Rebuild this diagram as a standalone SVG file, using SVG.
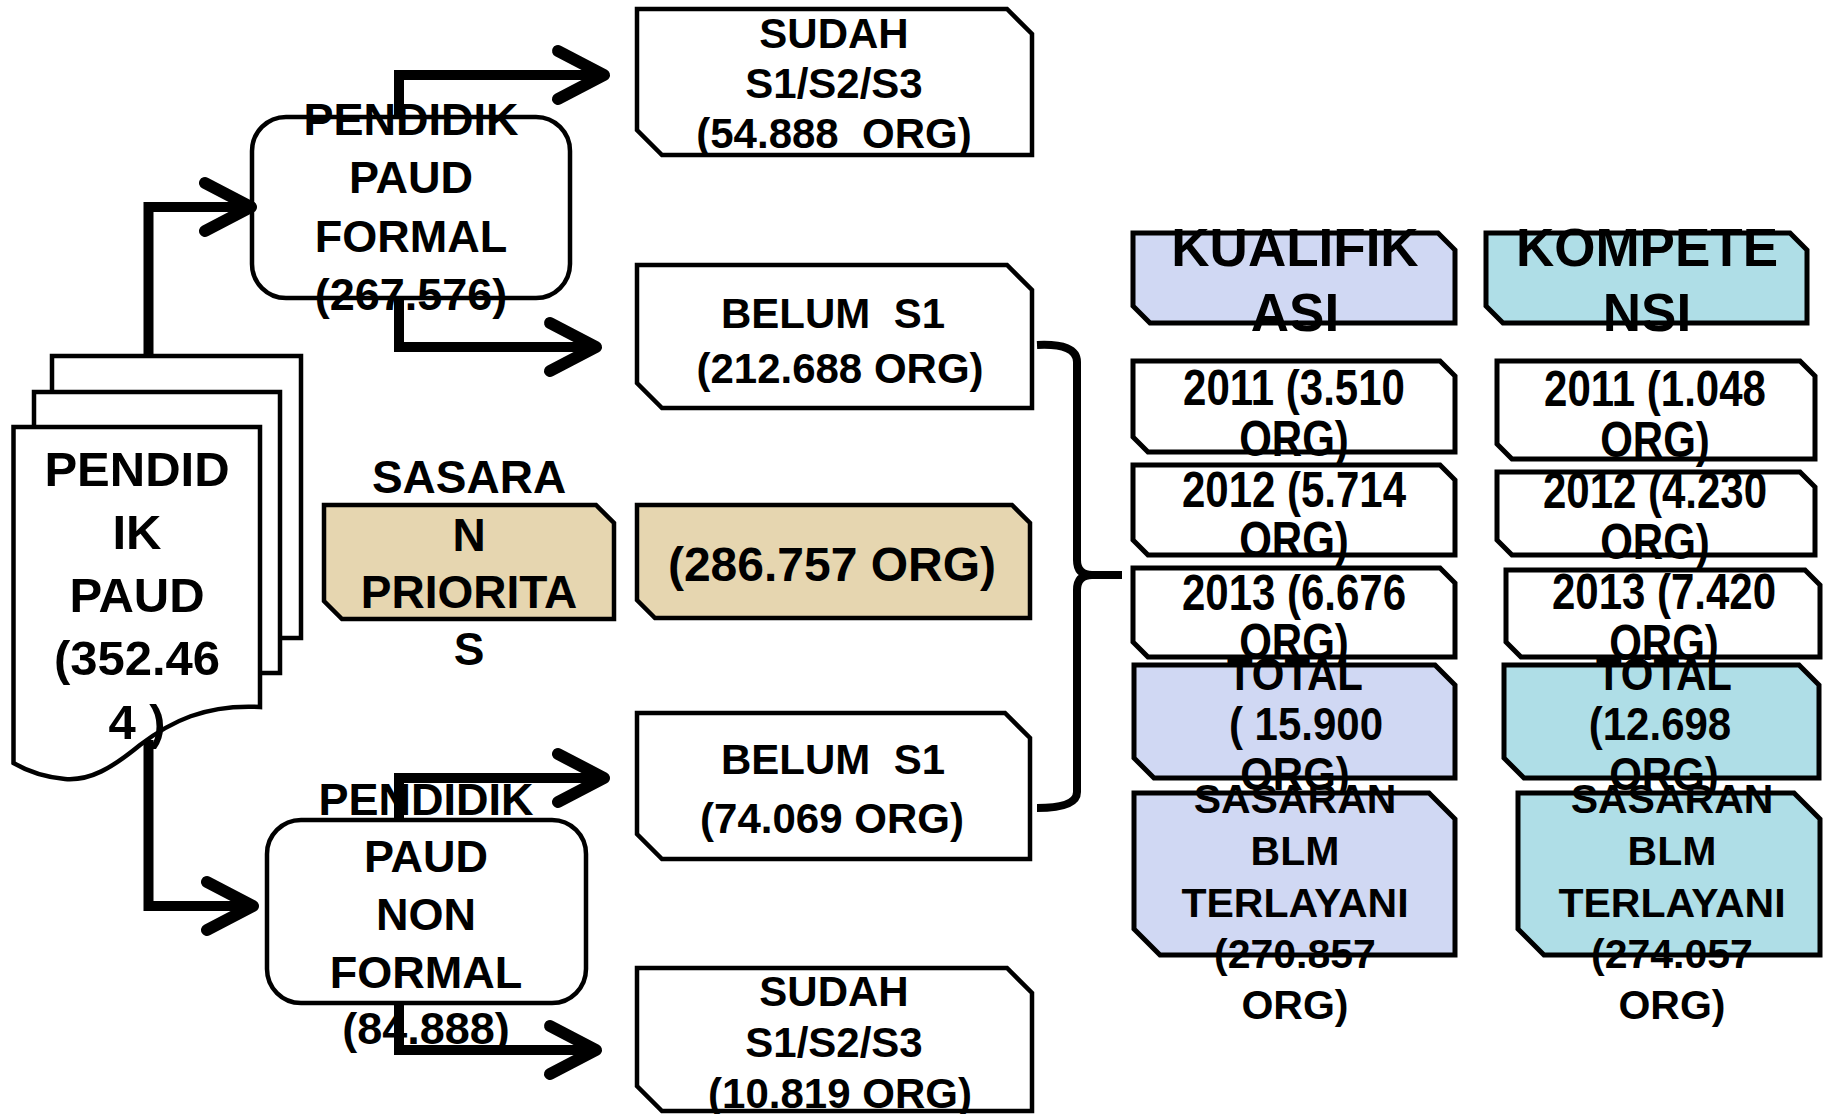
<svg xmlns="http://www.w3.org/2000/svg" width="1832" height="1114" viewBox="0 0 1832 1114">
<style>
.t{font-family:"Liberation Sans",Arial,sans-serif;font-weight:bold;fill:#000;text-anchor:middle}
.f42{font-size:42px}.f41{font-size:41px}.f45{font-size:45px}.f46{font-size:46px}.f48{font-size:48px}.f49{font-size:49px}.f53{font-size:53px}
.pg{fill:#fff;stroke:#000;stroke-width:4.5;stroke-linejoin:miter}
.rr{fill:#fff;stroke:#000;stroke-width:4.5}
.bx{fill:#fff;stroke:#000;stroke-width:4.5;stroke-linejoin:miter}
.tan{fill:#E6D6B0;stroke:#000;stroke-width:4.5;stroke-linejoin:miter}
.lav{fill:#D0D8F3;stroke:#000;stroke-width:5;stroke-linejoin:miter}
.cya{fill:#AFDEE7;stroke:#000;stroke-width:5;stroke-linejoin:miter}
.rb{fill:#fff;stroke:#000;stroke-width:5;stroke-linejoin:miter}
.cn{fill:none;stroke:#000;stroke-width:10;stroke-linejoin:miter}
.br{fill:none;stroke:#000;stroke-width:8;stroke-linejoin:round;stroke-linecap:butt}
</style>
<defs>
<marker id="chev" markerUnits="userSpaceOnUse" viewBox="-60 -40 70 80" markerWidth="70" markerHeight="80" refX="0" refY="0" orient="auto" overflow="visible">
<path d="M-46,-24 L0,0 L-46,24" fill="none" stroke="#000" stroke-width="12" stroke-linecap="round" stroke-linejoin="round"/>
</marker>
</defs>
<rect width="1832" height="1114" fill="#fff"/>

<g id="doc">
<rect class="pg" x="52" y="356" width="249" height="282"/>
<rect class="pg" x="34" y="392" width="246" height="281"/>
<path class="pg" d="M13.5,427 H260 V707 C205,704 170,722 140,745 C112,768 90,781 65,779 C45,777 27,771 13.5,763 Z"/>
<text class="t f49" x="137" y="486">PENDID</text>
<text class="t f49" x="137" y="549">IK</text>
<text class="t f49" x="137" y="612">PAUD</text>
<text class="t f49" x="137" y="675">(352.46</text>
<text class="t f49" x="137" y="739">4 )</text>
</g>

<g id="paud-formal">
<rect class="rr" x="252" y="117" width="318" height="181" rx="34"/>
<text class="t f45" x="411" y="135">PENDIDIK</text>
<text class="t f45" x="411" y="193">PAUD</text>
<text class="t f45" x="411" y="252">FORMAL</text>
<text class="t f45" x="411" y="310">(267.576)</text>
</g>

<g id="paud-nonformal">
<rect class="rr" x="267" y="820" width="319" height="183" rx="34"/>
<text class="t f45" x="426" y="815">PENDIDIK</text>
<text class="t f45" x="426" y="872">PAUD</text>
<text class="t f45" x="426" y="930">NON</text>
<text class="t f45" x="426" y="988">FORMAL</text>
<text class="t f45" x="426" y="1044">(84.888)</text>
</g>

<g id="sasaran-prioritas">
<polygon class="tan" points="324,505 596,505 614,523 614,619 342,619 324,601"/>
<text class="t f46" x="469" y="493">SASARA</text>
<text class="t f46" x="469" y="551">N</text>
<text class="t f46" x="469" y="608">PRIORITA</text>
<text class="t f46" x="469" y="665">S</text>
</g>

<g id="sudah-formal">
<polygon class="bx" points="637,9 1007,9 1032,34 1032,155 662,155 637,130"/>
<text class="t f42" x="834" y="48">SUDAH</text>
<text class="t f42" x="834" y="98">S1/S2/S3</text>
<text class="t f42" x="834" y="148" xml:space="preserve">(54.888  ORG)</text>
</g>

<g id="belum-formal">
<polygon class="bx" points="637,265 1007,265 1032,290 1032,408 662,408 637,383"/>
<text class="t f42" x="833" y="328" xml:space="preserve">BELUM  S1</text>
<text class="t f42" x="840" y="383">(212.688 ORG)</text>
</g>

<g id="total-sasaran">
<polygon class="tan" points="637,505 1012,505 1030,523 1030,618 655,618 637,600"/>
<text class="t f48" x="832" y="581">(286.757 ORG)</text>
</g>

<g id="belum-nonformal">
<polygon class="bx" points="637,713 1005,713 1030,738 1030,859 662,859 637,834"/>
<text class="t f42" x="833" y="774" xml:space="preserve">BELUM  S1</text>
<text class="t f42" x="832" y="833">(74.069 ORG)</text>
</g>

<g id="sudah-nonformal">
<polygon class="bx" points="637,968 1007,968 1032,993 1032,1111 662,1111 637,1086"/>
<text class="t f42" x="834" y="1006">SUDAH</text>
<text class="t f42" x="834" y="1057">S1/S2/S3</text>
<text class="t f42" x="840" y="1108">(10.819 ORG)</text>
</g>

<g id="kualifikasi">
<polygon class="lav" points="1133,233 1438,233 1455,250 1455,323 1150,323 1133,306"/>
<text class="t f53" x="1295" y="266">KUALIFIK</text>
<text class="t f53" x="1295" y="331">ASI</text>
</g>

<g id="kompetensi">
<polygon class="cya" points="1486,233 1790,233 1807,250 1807,323 1503,323 1486,306"/>
<text class="t f53" x="1647" y="266">KOMPETE</text>
<text class="t f53" x="1647" y="331">NSI</text>
</g>

<g id="k2011">
<polygon class="rb" points="1133,361 1440,361 1455,376 1455,452 1148,452 1133,437"/>
<text class="t f42" x="1294" y="405" transform="matrix(1,0,0,1.2,0,-81)">2011 (3.510</text>
<text class="t f42" x="1294" y="456" transform="matrix(1,0,0,1.2,0,-91.2)">ORG)</text>
</g>
<g id="k2012">
<polygon class="rb" points="1133,465 1440,465 1455,480 1455,555 1148,555 1133,540"/>
<text class="t f42" x="1294" y="507" transform="matrix(1,0,0,1.2,0,-101.4)">2012 (5.714</text>
<text class="t f42" x="1294" y="557" transform="matrix(1,0,0,1.2,0,-111.4)">ORG)</text>
</g>
<g id="k2013">
<polygon class="rb" points="1133,568 1440,568 1455,583 1455,657 1148,657 1133,642"/>
<text class="t f42" x="1294" y="610" transform="matrix(1,0,0,1.2,0,-122)">2013 (6.676</text>
<text class="t f42" x="1294" y="659" transform="matrix(1,0,0,1.2,0,-131.8)">ORG)</text>
</g>

<g id="c2011">
<polygon class="rb" points="1497,361 1800,361 1815,376 1815,459 1512,459 1497,444"/>
<text class="t f42" x="1655" y="406" transform="matrix(1,0,0,1.2,0,-81.2)">2011 (1.048</text>
<text class="t f42" x="1655" y="457" transform="matrix(1,0,0,1.2,0,-91.4)">ORG)</text>
</g>
<g id="c2012">
<polygon class="rb" points="1497,472 1800,472 1815,487 1815,555 1512,555 1497,540"/>
<text class="t f42" x="1655" y="508" transform="matrix(1,0,0,1.2,0,-101.6)">2012 (4.230</text>
<text class="t f42" x="1655" y="559" transform="matrix(1,0,0,1.2,0,-111.8)">ORG)</text>
</g>
<g id="c2013">
<polygon class="rb" points="1506,570 1805,570 1820,585 1820,657 1521,657 1506,642"/>
<text class="t f42" x="1664" y="609" transform="matrix(1,0,0,1.2,0,-121.8)">2013 (7.420</text>
<text class="t f42" x="1664" y="660" transform="matrix(1,0,0,1.2,0,-132)">ORG)</text>
</g>

<g id="k-total">
<polygon class="lav" points="1134,665 1435,665 1455,685 1455,778 1154,778 1134,758"/>
<text class="t f42" x="1295" y="690" transform="matrix(1,0,0,1.12,0,-82.8)">TOTAL</text>
<text class="t f42" x="1306" y="740" transform="matrix(1,0,0,1.12,0,-88.8)" xml:space="preserve">( 15.900</text>
<text class="t f42" x="1295" y="790" transform="matrix(1,0,0,1.12,0,-94.8)">ORG)</text>
</g>
<g id="c-total">
<polygon class="cya" points="1504,665 1799,665 1819,685 1819,778 1524,778 1504,758"/>
<text class="t f42" x="1664" y="690" transform="matrix(1,0,0,1.12,0,-82.8)">TOTAL</text>
<text class="t f42" x="1660" y="740" transform="matrix(1,0,0,1.12,0,-88.8)">(12.698</text>
<text class="t f42" x="1664" y="790" transform="matrix(1,0,0,1.12,0,-94.8)">ORG)</text>
</g>

<g id="k-sasaran">
<polygon class="lav" points="1134,793 1429,793 1455,819 1455,955 1160,955 1134,929"/>
<text class="t f41" x="1295" y="813">SASARAN</text>
<text class="t f41" x="1295" y="865">BLM</text>
<text class="t f41" x="1295" y="917">TERLAYANI</text>
<text class="t f41" x="1295" y="968">(270.857</text>
<text class="t f41" x="1295" y="1019">ORG)</text>
</g>
<g id="c-sasaran">
<polygon class="cya" points="1518,793 1794,793 1820,819 1820,955 1544,955 1518,929"/>
<text class="t f41" x="1672" y="813">SASARAN</text>
<text class="t f41" x="1672" y="865">BLM</text>
<text class="t f41" x="1672" y="917">TERLAYANI</text>
<text class="t f41" x="1672" y="968">(274.057</text>
<text class="t f41" x="1672" y="1019">ORG)</text>
</g>

<g id="connectors">
<path class="cn" d="M148.5,356 V207 H251" marker-end="url(#chev)"/>
<path class="cn" d="M148.5,740 V906 H253" marker-end="url(#chev)"/>
<path class="cn" d="M399,117 V75 H604" marker-end="url(#chev)"/>
<path class="cn" d="M399,298 V347 H596" marker-end="url(#chev)"/>
<path class="cn" d="M399,820 V778 H604" marker-end="url(#chev)"/>
<path class="cn" d="M399,1003 V1050 H596" marker-end="url(#chev)"/>
<path class="br" d="M1037,345 Q1077,343 1077,362 V560 Q1077,575 1092,575 H1122 M1092,575 Q1077,575 1077,590 V792 Q1077,808 1037,808"/>
</g>
</svg>
